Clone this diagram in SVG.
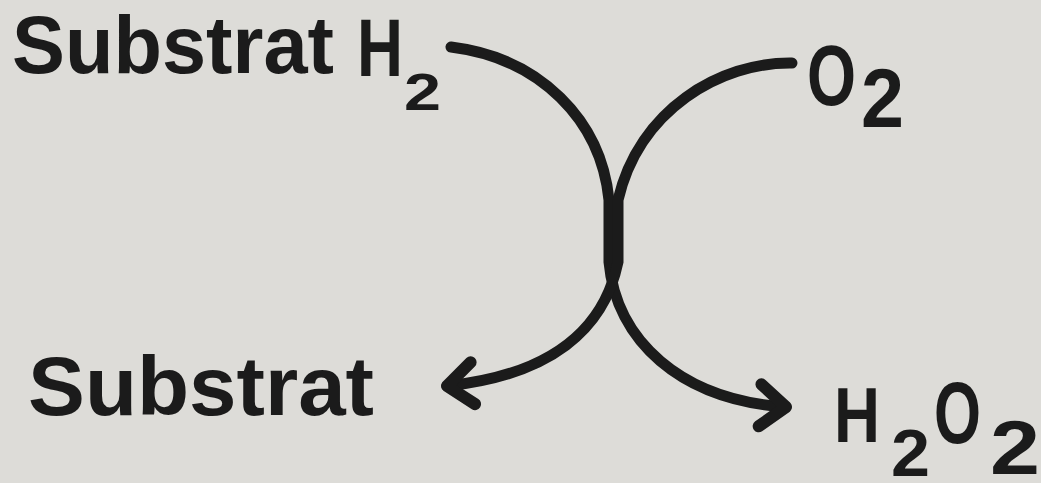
<svg xmlns="http://www.w3.org/2000/svg" width="1041" height="483" viewBox="0 0 1041 483">
  <style>
    .t { font-family: "Liberation Sans", Arial, sans-serif; font-weight: bold; fill: #1b1b1b; }
    .c { fill: none; stroke: #1b1b1b; stroke-width: 11; stroke-linecap: round; }
  </style>
  <defs>
    <marker id="ah" markerUnits="userSpaceOnUse" markerWidth="60" markerHeight="60" viewBox="-40 -30 50 60" refX="0" refY="0" orient="auto">
      <path d="M-26,-21 L0,0 L-26,21" fill="none" stroke="#1b1b1b" stroke-width="12" stroke-linecap="round" stroke-linejoin="round"/>
    </marker>
  </defs>
  <rect x="0" y="0" width="1041" height="483" fill="#dddcd8"/>

  <g id="connectors">
    <path class="c" d="M451,47 C540,58 601,120 609,200 L609,262 C616,340 680,400 786,407" marker-end="url(#ah)"/>
    <path class="c" d="M792,63 C720,62 639,110 618,200 L618,262 C604,330 550,375 447,386" marker-end="url(#ah)"/>
  </g>

  <g id="node-substrat-h2">
    <text class="t" x="12" y="73" font-size="82" textLength="322" lengthAdjust="spacingAndGlyphs">Substrat</text>
    <text class="t" x="357" y="76" font-size="82" textLength="46" lengthAdjust="spacingAndGlyphs">H</text>
    <text class="t" x="404" y="110" font-size="52" textLength="37" lengthAdjust="spacingAndGlyphs">2</text>
  </g>

  <g id="node-o2">
    <text class="t" x="807" y="105" font-size="86" textLength="49" lengthAdjust="spacingAndGlyphs">O</text>
    <text class="t" x="861" y="127" font-size="84" textLength="43" lengthAdjust="spacingAndGlyphs">2</text>
  </g>

  <g id="node-substrat">
    <text class="t" x="28" y="415" font-size="84" textLength="346" lengthAdjust="spacingAndGlyphs">Substrat</text>
  </g>

  <g id="node-h2o2">
    <text class="t" x="834" y="442" font-size="78" textLength="46" lengthAdjust="spacingAndGlyphs">H</text>
    <text class="t" x="891" y="476" font-size="66" textLength="39" lengthAdjust="spacingAndGlyphs">2</text>
    <text class="t" x="934" y="443" font-size="88" textLength="47" lengthAdjust="spacingAndGlyphs">O</text>
    <text class="t" x="990" y="474" font-size="76" textLength="50" lengthAdjust="spacingAndGlyphs">2</text>
  </g>
</svg>
